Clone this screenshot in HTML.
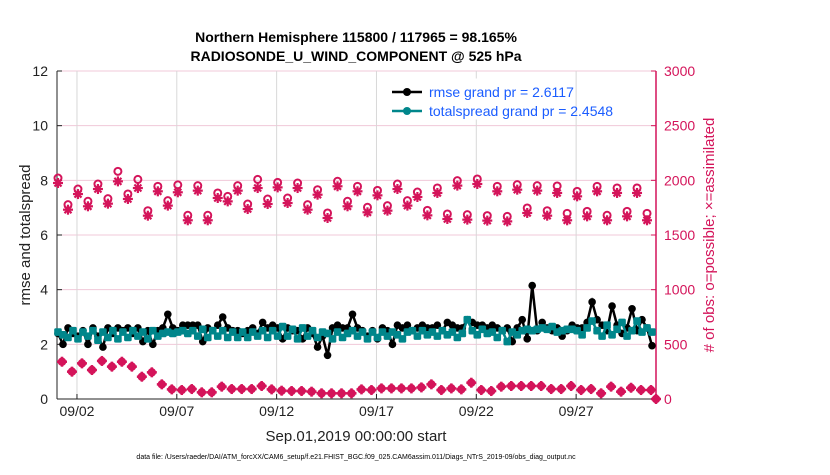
<!DOCTYPE html>
<html><head><meta charset="utf-8"><style>
body{margin:0;background:#fff;width:830px;height:470px;overflow:hidden;font-family:"Liberation Sans",sans-serif}
</style></head><body>
<svg id="c" width="830" height="470" xmlns="http://www.w3.org/2000/svg" font-family="Liberation Sans, sans-serif"></svg>
<script>
const rmse=[2.4,2.0,2.6,2.4,2.3,2.5,2.0,2.6,2.3,1.9, 2.6,2.4,2.6,2.5,2.6,2.4,2.6,2.1,2.5,2.0, 2.5,2.6,3.1,2.6,2.5,2.7,2.7,2.7,2.7,2.1, 2.6,2.5,2.7,3.0,2.6,2.5,2.5,2.4,2.5,2.6, 2.4,2.8,2.6,2.7,2.6,2.2,2.6,2.5,2.5,2.2, 2.6,2.4,1.9,2.3,1.6,2.6,2.7,2.6,2.6,3.1, 2.6,2.5,2.3,2.5,2.2,2.6,2.5,2.0,2.7,2.6, 2.7,2.5,2.6,2.7,2.6,2.6,2.7,2.5,2.8,2.7, 2.6,2.6,2.9,2.8,2.7,2.7,2.6,2.7,2.6,2.5, 2.6,2.1,2.6,2.9,2.2,4.15,2.5,2.8,2.6,2.5, 2.6,2.3,2.5,2.7,2.6,2.6,2.8,3.55,2.9,2.7, 2.5,3.4,2.7,2.4,2.6,3.3,2.5,2.9,2.6,1.95];
const spread=[2.45,2.35,2.25,2.5,2.2,2.45,2.3,2.5,2.15,2.45, 2.25,2.5,2.2,2.45,2.25,2.5,2.3,2.45,2.2,2.5, 2.3,2.4,2.45,2.4,2.45,2.5,2.4,2.5,2.3,2.55, 2.25,2.5,2.3,2.5,2.25,2.45,2.25,2.45,2.25,2.45, 2.3,2.5,2.25,2.5,2.3,2.65,2.3,2.55,2.2,2.6, 2.3,2.5,2.25,2.45,2.4,2.2,2.45,2.25,2.4,2.5, 2.3,2.45,2.2,2.45,2.25,2.45,2.3,2.45,2.35,2.2, 2.45,2.5,2.3,2.5,2.35,2.45,2.3,2.5,2.35,2.45, 2.25,2.4,2.9,2.5,2.35,2.55,2.4,2.45,2.25,2.5, 2.1,2.45,2.35,2.5,2.55,2.5,2.55,2.6,2.55,2.65, 2.45,2.5,2.55,2.55,2.5,2.35,2.6,2.85,2.5,2.3, 2.7,2.35,2.55,2.8,2.3,2.5,2.85,2.45,2.6,2.45];
const obsPossible=[2003,1759,1902,1790,1948,1814,2064,1857,1990,1704,1927,1796,1940,1662,1933,1662,1866,1835,1933,1765,1990,1811,1963,1820,1957,1759,1896,1683,1973,1790, 1927,1735,1890,1750,1948,1796,1875,1707,1912,1674,1979,1668,1994,1659,1927,1652,1942,1729,1933,1704,1930,1680,1881,1698,1927,1662,1912,1698,1912,1680];
const obsAssim=[2003,1759,1902,1790,1948,1814,2018,1857,1957,1704,1927,1796,1918,1662,1933,1662,1866,1835,1933,1765,1957,1811,1963,1820,1957,1759,1896,1683,1973,1790, 1927,1735,1890,1750,1948,1796,1875,1707,1912,1674,1979,1668,1994,1659,1927,1652,1942,1729,1933,1704,1912,1662,1881,1698,1927,1662,1912,1698,1912,1662];
const obsLower=[341,250,326,265,348,296,341,296,204,244,134,88,82,91,61,61,113,91,91,91,119,88,76,73,73,67,52,52,52,52, 88,82,97,97,97,97,106,134,82,97,88,149,82,73,113,119,119,119,119,91,91,119,82,91,52,113,67,103,82,82,0];
const xTicks=[1,6,11,16,21,26];
const xTickLabels=["09/02","09/07","09/12","09/17","09/22","09/27"];
const yTicks=[0,2,4,6,8,10,12];
const y2Ticks=[0,500,1000,1500,2000,2500,3000];

const svg=document.getElementById('c');const NS="http://www.w3.org/2000/svg";
const L=57,R=656,T=71,B=399;
const xs=d=>L+(d/30)*(R-L);
const ys=v=>B-(v/12)*(B-T);
const ys2=v=>B-(v/3000)*(B-T);
function el(tag,at,parent){const e=document.createElementNS(NS,tag);for(const k in at)e.setAttribute(k,at[k]);(parent||svg).appendChild(e);return e;}
function tx(s,at){const e=el('text',at);e.textContent=s;return e;}
const CR="#d4145a",TE="#00868b";
y2Ticks.forEach(v=>{if(v>0){const g=el('line',{x1:L,x2:R,y1:ys2(v),y2:ys2(v),stroke:"#f0c8d8","stroke-width":1});

}});
xTicks.forEach((d,i)=>{const g=el('line',{x1:xs(d),x2:xs(d),y1:T,y2:B,stroke:"#d8d8d8","stroke-width":1});


const t=tx(xTickLabels[i],{x:xs(d),y:416,"font-size":14,"text-anchor":"middle",fill:"#222"});


el('line',{x1:xs(d),x2:xs(d),y1:B,y2:B-5,stroke:"#222"});});
el('line',{x1:L,x2:L,y1:T,y2:B,stroke:"#222","stroke-width":1});
el('line',{x1:L,x2:R,y1:B,y2:B,stroke:"#222","stroke-width":1});
el('line',{x1:R,x2:R,y1:T,y2:B,stroke:CR,"stroke-width":1.5});
yTicks.forEach(v=>{const t=tx(String(v),{x:L-9,y:ys(v)+5,"font-size":14,"text-anchor":"end",fill:"#222"});


el('line',{x1:L,x2:L+5,y1:ys(v),y2:ys(v),stroke:"#222"});});
y2Ticks.forEach(v=>{const t=tx(String(v),{x:R+8,y:ys2(v)+5,"font-size":14,fill:CR});


el('line',{x1:R,x2:R-5,y1:ys2(v),y2:ys2(v),stroke:CR});});
obsPossible.forEach((v,i)=>{const x=xs(0.05+i*0.5);
const c=el('circle',{cx:x,cy:ys2(v)-2,r:3.5,fill:"none",stroke:CR,"stroke-width":2});

});
obsAssim.forEach((v,i)=>{const x=xs(0.05+i*0.5),y=ys2(v)+3;
const g=el('g',{stroke:CR,"stroke-width":2.2});


el('line',{x1:x-5,x2:x+5,y1:y,y2:y},g);el('line',{x1:x,x2:x,y1:y-5,y2:y+5},g);
el('line',{x1:x-3.5,x2:x+3.5,y1:y-3.5,y2:y+3.5},g);el('line',{x1:x-3.5,x2:x+3.5,y1:y+3.5,y2:y-3.5},g);});
obsLower.forEach((v,i)=>{const t=i<60?0.25+i*0.5:30;const x=xs(t),y=ys2(v);
const g=el('g',{stroke:CR,"stroke-width":2.5,fill:CR});


el('line',{x1:x-5,x2:x+5,y1:y,y2:y},g);el('line',{x1:x,x2:x,y1:y-5,y2:y+5},g);el('circle',{cx:x,cy:y,r:3},g);});
function series(vals,color,name,r,sq){const pts=vals.map((v,i)=>[xs(0.05+i*0.25),ys(v)]);
const p=el('polyline',{points:pts.map(p=>p.join(',')).join(' '),fill:"none",stroke:color,"stroke-width":2.5});


pts.forEach(q=>{const c=sq?el('rect',{x:q[0]-r,y:q[1]-r,width:2*r,height:2*r,rx:1.5,fill:color}):el('circle',{cx:q[0],cy:q[1],r:r,fill:color});

});}
series(rmse,"#000","rmse",3.8,false);
series(spread,TE,"spread",3.8,true);
const lg=el('rect',{x:388,y:79,width:170,height:40,fill:"#fff",stroke:"#fff"});


[[92,"#000","rmse grand pr = 2.6117"],[111,TE,"totalspread grand pr = 2.4548"]].forEach(a=>{
el('line',{x1:392,x2:422,y1:a[0],y2:a[0],stroke:a[1],"stroke-width":2.5});el('circle',{cx:407,cy:a[0],r:4,fill:a[1]});
const t=tx(a[2],{x:429,y:a[0]+5,"font-size":14,fill:"#1a5cff"});

});
let t=tx("Northern Hemisphere 115800 / 117965 = 98.165%",{x:356,y:42,"font-size":14,"font-weight":"bold","text-anchor":"middle",fill:"#000"});


t=tx("RADIOSONDE_U_WIND_COMPONENT @ 525 hPa",{x:356,y:61,"font-size":14,"font-weight":"bold","text-anchor":"middle",fill:"#000"});


t=tx("rmse and totalspread",{x:0,y:0,"font-size":15,"text-anchor":"middle",fill:"#222",transform:"translate(30,235) rotate(-90)"});


t=tx("# of obs: o=possible; \u00d7=assimilated",{x:0,y:0,"font-size":15,"text-anchor":"middle",fill:CR,transform:"translate(714,235) rotate(-90)"});


t=tx("Sep.01,2019 00:00:00 start",{x:356,y:441,"font-size":15,"text-anchor":"middle",fill:"#222"});


t=tx("data file: /Users/raeder/DAI/ATM_forcXX/CAM6_setup/f.e21.FHIST_BGC.f09_025.CAM6assim.011/Diags_NTrS_2019-09/obs_diag_output.nc",{x:356,y:459,"font-size":7,"text-anchor":"middle",fill:"#000"});


</script>
</body></html>
